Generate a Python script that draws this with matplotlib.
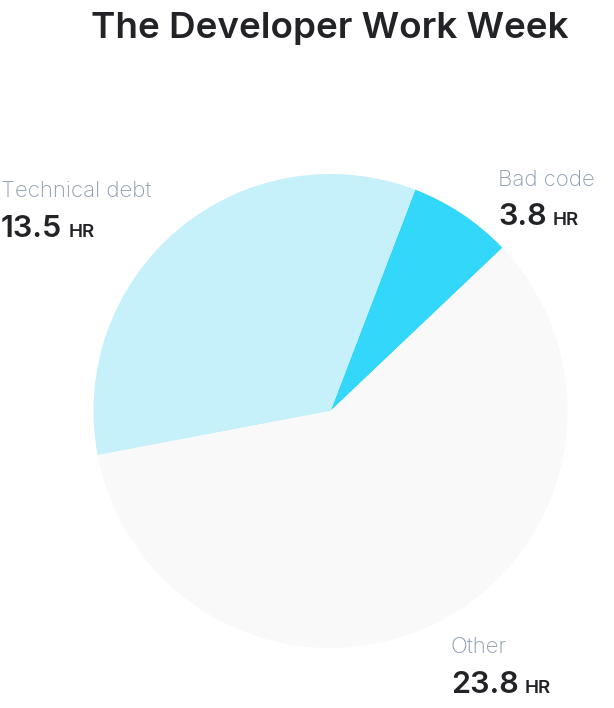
import matplotlib
matplotlib.use("Agg")
import matplotlib.pyplot as plt

# categories and their hours (as labelled)
labels = ["Bad code", "Technical debt", "Other"]
hours = [3.8, 13.5, 23.8]
# wedge shares as drawn in the picture (percent of the circle)
shares = [7.1, 33.8, 59.1]
colors = ["#33d7fa", "#c6f1fa", "#f9f9f9"]

plt.rcParams["font.family"] = ["Inter", "DejaVu Sans"]

fig = plt.figure(figsize=(6.14, 7.08), dpi=100)
ax = fig.add_axes([0, 0, 1, 1])

ax.pie(shares, colors=colors, startangle=43.5, counterclock=True,
       center=(330.5, 708 - 411), radius=237, frame=True,
       wedgeprops=dict(linewidth=0))
ax.set_xlim(0, 614)
ax.set_ylim(0, 708)
ax.set_aspect("equal")
ax.axis("off")

fig.text(330 / 614, 1 - 38 / 708, "The Developer Work Week", ha="center",
         va="baseline", fontsize=26.5, fontweight="semibold", color="#222326")

# label anchor positions in pixels (left, baseline of name, baseline of value)
label_pos = {"Technical debt": (1, 197, 237),
             "Bad code": (498, 186, 225),
             "Other": (451, 653, 693)}

fig.canvas.draw()
renderer = fig.canvas.get_renderer()
for name, h in zip(labels, hours):
    x, y1, y2 = label_pos[name]
    ax.text(x, 708 - y1, name, fontsize=16, color="#8e9bae",
            va="baseline", ha="left", fontweight="light")
    t = ax.text(x, 708 - y2, f"{h}", fontsize=22, color="#222326",
                va="baseline", ha="left", fontweight="semibold")
    bb = t.get_window_extent(renderer)
    ax.text(bb.x1 + 6, 708 - y2, "HR", fontsize=13.5, color="#222326",
            va="baseline", ha="left", fontweight="semibold")

fig.savefig("out.png", dpi=100)
